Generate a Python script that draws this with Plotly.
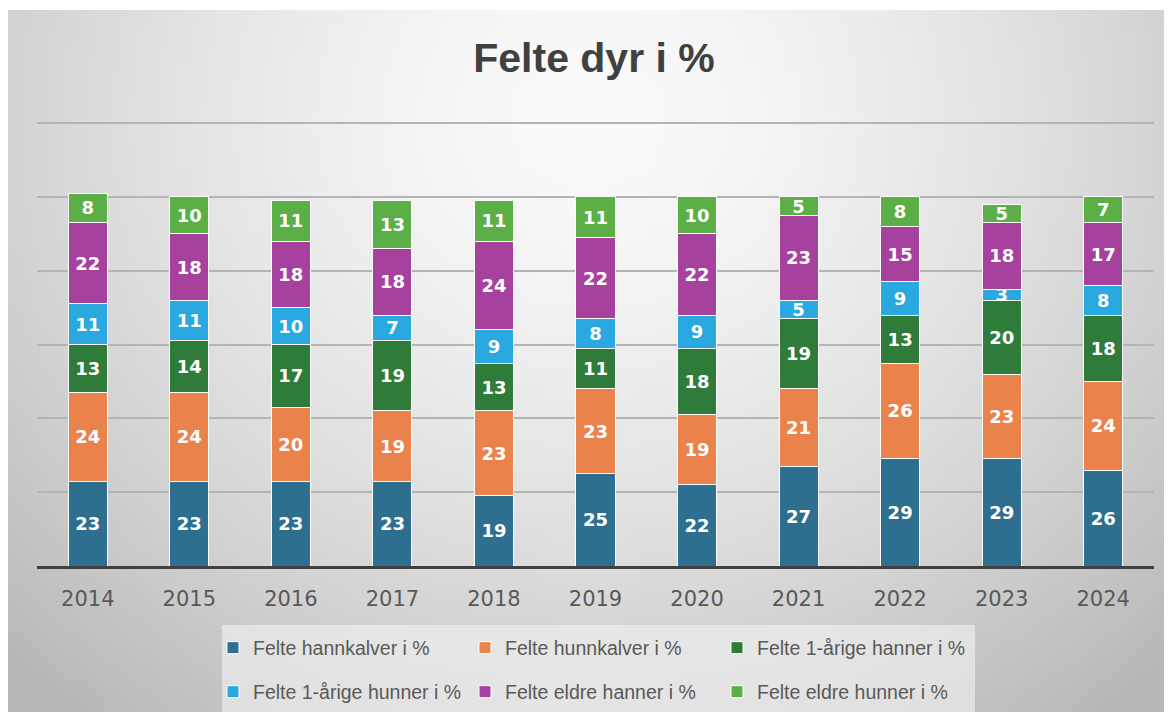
import base64, struct, zlib
import plotly.graph_objects as go

years = ["2014", "2015", "2016", "2017", "2018", "2019", "2020", "2021", "2022", "2023", "2024"]
hannkalver = [23, 23, 23, 23, 19, 25, 22, 27, 29, 29, 26]
hunnkalver = [24, 24, 20, 19, 23, 23, 19, 21, 26, 23, 24]
hanner_1 = [13, 14, 17, 19, 13, 11, 18, 19, 13, 20, 18]
hunner_1 = [11, 11, 10, 7, 9, 8, 9, 5, 9, 3, 8]
eldre_hanner = [22, 18, 18, 18, 24, 22, 22, 23, 15, 18, 17]
eldre_hunner = [8, 10, 11, 13, 11, 11, 10, 5, 8, 5, 7]

series_names = ["Felte hannkalver i %", "Felte hunnkalver i %", "Felte 1-årige hanner i %",
                "Felte 1-årige hunner i %", "Felte eldre hanner i %", "Felte eldre hunner i %"]
series_values = [hannkalver, hunnkalver, hanner_1, hunner_1, eldre_hanner, eldre_hunner]
colors = ["#2E6E8E", "#E9834B", "#2E7B3A", "#29A9DF", "#A6419E", "#5BAF46"]

# --- background gradient image (style only) ---
def gradient_png(w=120, h=72):
    rows = b""
    for j in range(h):
        row = bytearray([0])
        y = j / (h - 1)
        for i in range(w):
            x = i / (w - 1)
            r = (((x - 0.5) / 0.62) ** 2 + ((y - 0.15) / 0.95) ** 2) ** 0.5
            r = min(r, 1.15)
            v = int(251 - 54 * r ** 1.5)
            row.append(max(0, min(255, v)))
        rows += bytes(row)
    def chunk(t, d):
        c = struct.pack(">I", len(d)) + t + d
        return c + struct.pack(">I", zlib.crc32(t + d) & 0xffffffff)
    png = b"\x89PNG\r\n\x1a\n"
    png += chunk(b"IHDR", struct.pack(">IIBBBBB", w, h, 8, 0, 0, 0, 0))
    png += chunk(b"IDAT", zlib.compress(rows, 9))
    png += chunk(b"IEND", b"")
    return "data:image/png;base64," + base64.b64encode(png).decode()

OFF = 8  # page offset of the figure div
W, H = 1172 - OFF, 722 - OFF
# plot area in page pixels: x 37..1154, y 122..566
L = 37 - OFF
R = W - (1154 - OFF)
T = 122 - OFF
B = H - (566 - OFF)
pw, ph = W - L - R, H - T - B

def px_x(p):
    return (p - OFF - L) / pw

def px_y(p):
    return (H - B - (p - OFF)) / ph

fig = go.Figure()
for i, (name, vals, col) in enumerate(zip(series_names, series_values, colors)):
    fig.add_trace(go.Bar(
        x=years, y=vals, name=name,
        marker=dict(color=col, line=dict(color="white", width=1)),
        text=[str(v) for v in vals], textposition="inside",
        insidetextanchor="middle", textangle=0, constraintext="none",
        textfont=dict(family="DejaVu Sans", size=18, color="white", weight="bold"),
        legend="legend" if i < 3 else "legend2",
        hoverinfo="skip",
    ))

legend_font = dict(family="Liberation Sans Narrow, Arial Narrow, Liberation Sans", size=19.5, color="#595959")
common_leg = dict(orientation="h", xref="paper", yref="paper", xanchor="left", yanchor="middle",
                  bgcolor="rgba(0,0,0,0)", font=legend_font, entrywidth=207, entrywidthmode="pixels",
                  traceorder="normal", itemclick=False)

fig.update_layout(
    width=W, height=H,
    margin=dict(l=L, r=R, t=T, b=B, autoexpand=False),
    barmode="stack", bargap=0.615,
    paper_bgcolor="white", plot_bgcolor="rgba(0,0,0,0)",
    title=dict(text="<b>Felte dyr i %</b>", x=(594 - OFF) / W, xanchor="center",
               y=1 - (58 - OFF) / H, yanchor="middle", yref="container",
               font=dict(family="Liberation Sans", size=41, color="#404040")),
    xaxis=dict(type="category", showgrid=False, showline=True, linecolor="#404040", linewidth=3,
               ticks="", tickfont=dict(family="DejaVu Sans", size=21, color="#595959"),
               ticklabelstandoff=12, fixedrange=True),
    yaxis=dict(range=[0, 120.3], showticklabels=False, showgrid=True, gridcolor="#b4b4b4", gridwidth=1.5,
               tickvals=[20, 40, 60, 80, 100, 120], zeroline=False, showline=False, fixedrange=True),
    legend=dict(x=px_x(213), y=px_y(648), **common_leg),
    legend2=dict(x=px_x(213), y=px_y(692), **common_leg),
    images=[dict(source=gradient_png(), xref="paper", yref="paper",
                 x=px_x(7), y=px_y(10), sizex=(1172 - 7) / pw, sizey=(712 - 10) / ph,
                 xanchor="left", yanchor="top", sizing="stretch", layer="below")],
    shapes=[dict(type="rect", xref="paper", yref="paper", x0=px_x(222), x1=px_x(975),
                 y0=px_y(712), y1=px_y(625), fillcolor="rgba(244,244,244,0.6)", line=dict(width=0),
                 layer="below")],
    showlegend=True,
)

fig.write_html("out.html")
